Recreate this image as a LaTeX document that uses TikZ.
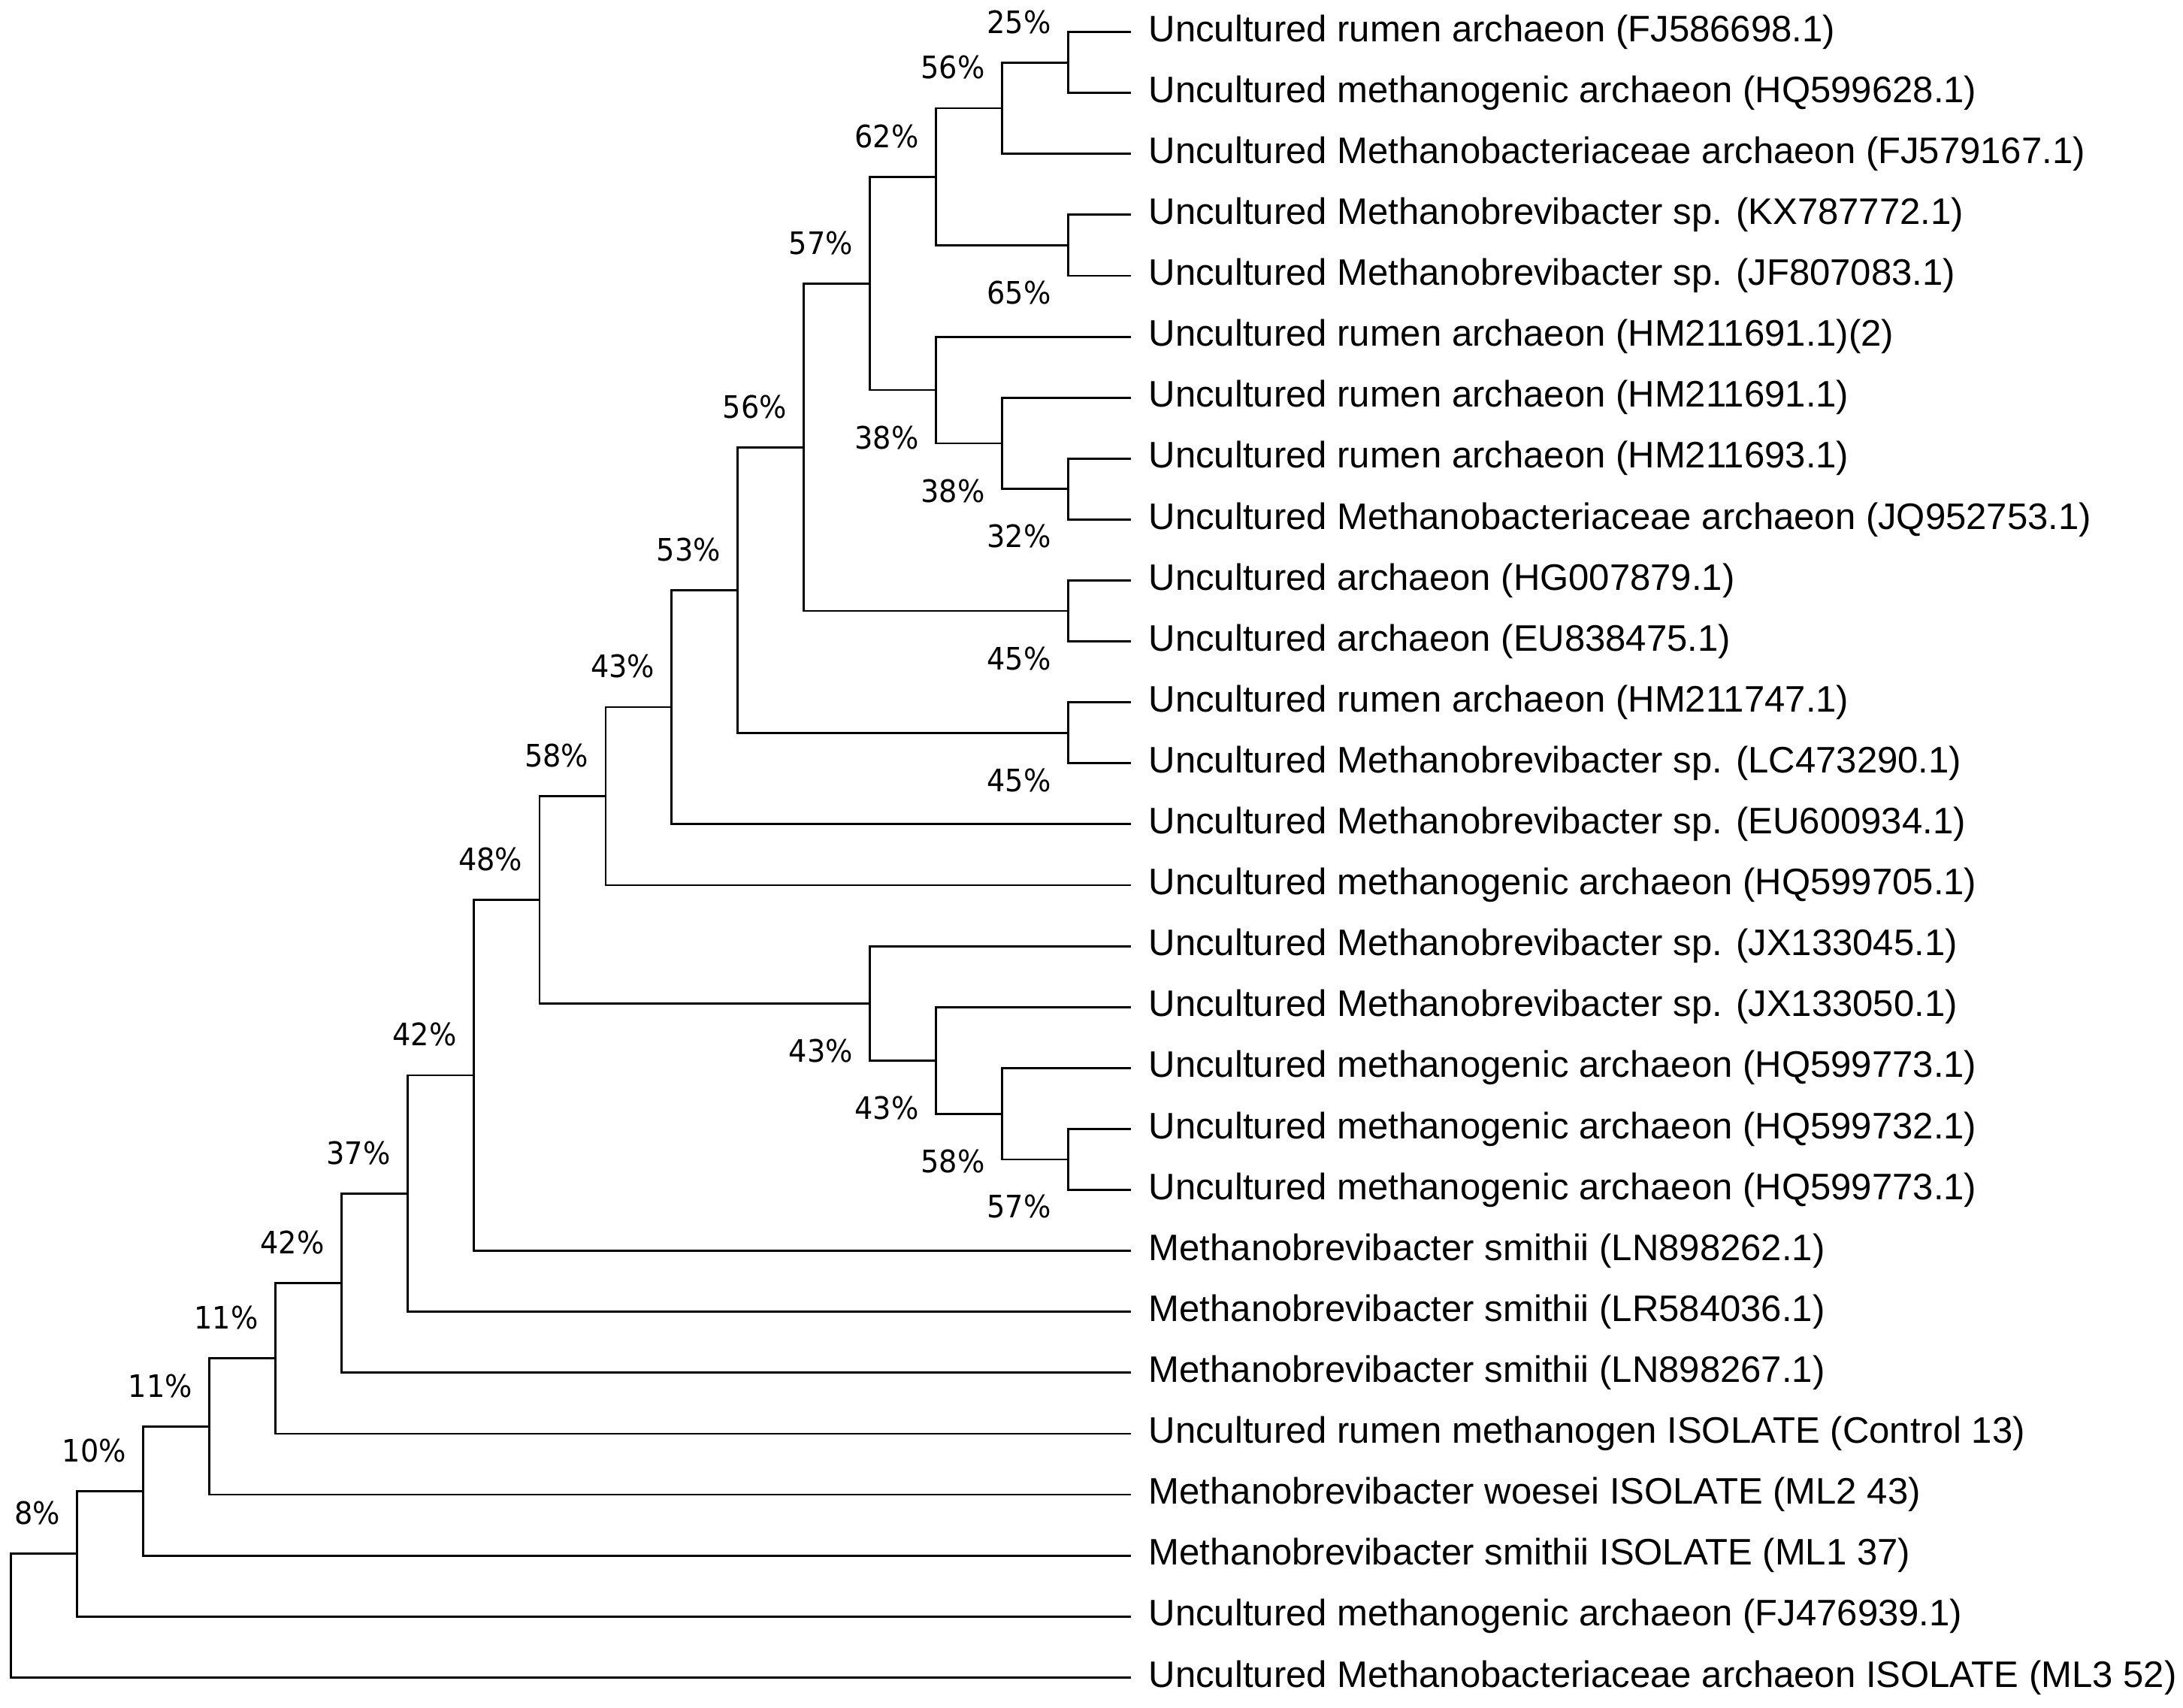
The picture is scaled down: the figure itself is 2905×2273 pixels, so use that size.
\documentclass[tikz,border=0pt]{standalone}
\usepackage{fontspec}
\setmainfont{Liberation Sans}
\newfontfamily\pctfont{DejaVu Sans}[FakeStretch=0.93]
\usetikzlibrary{calc}

\tikzset{
    branch/.style={line width=0.8pt},
    taxon/.style={anchor=west, inner xsep=0.23cm, inner ysep=0pt, font=\fontsize{13.95}{16}\selectfont},
    boot/.style={anchor=east, inner sep=0pt, font=\pctfont\fontsize{11.7}{14}\selectfont},
    bootup/.style={boot, xshift=-0.22cm, yshift=0.54cm},
    bootdown/.style={boot, xshift=-0.22cm, yshift=-0.63cm}
}

\begin{document}
\begin{tikzpicture}[x=0.01cm, y=-0.01cm]
        \useasboundingbox (0,0) rectangle (2905,2273);

        % Taxa
        \foreach \t [count=\i from 0] in {
            {Uncultured rumen archaeon (FJ586698.1)},
            {Uncultured methanogenic archaeon (HQ599628.1)},
            {Uncultured Methanobacteriaceae archaeon (FJ579167.1)},
            {Uncultured Methanobrevibacter sp. (KX787772.1)},
            {Uncultured Methanobrevibacter sp. (JF807083.1)},
            {Uncultured rumen archaeon (HM211691.1)(2)},
            {Uncultured rumen archaeon (HM211691.1)},
            {Uncultured rumen archaeon (HM211693.1)},
            {Uncultured Methanobacteriaceae archaeon (JQ952753.1)},
            {Uncultured archaeon (HG007879.1)},
            {Uncultured archaeon (EU838475.1)},
            {Uncultured rumen archaeon (HM211747.1)},
            {Uncultured Methanobrevibacter sp. (LC473290.1)},
            {Uncultured Methanobrevibacter sp. (EU600934.1)},
            {Uncultured methanogenic archaeon (HQ599705.1)},
            {Uncultured Methanobrevibacter sp. (JX133045.1)},
            {Uncultured Methanobrevibacter sp. (JX133050.1)},
            {Uncultured methanogenic archaeon (HQ599773.1)},
            {Uncultured methanogenic archaeon (HQ599732.1)},
            {Uncultured methanogenic archaeon (HQ599773.1)},
            {Methanobrevibacter smithii (LN898262.1)},
            {Methanobrevibacter smithii (LR584036.1)},
            {Methanobrevibacter smithii (LN898267.1)},
            {Uncultured rumen methanogen ISOLATE (Control 13)},
            {Methanobrevibacter woesei ISOLATE (ML2 43)},
            {Methanobrevibacter smithii ISOLATE (ML1 37)},
            {Uncultured methanogenic archaeon (FJ476939.1)},
            {Uncultured Methanobacteriaceae archaeon ISOLATE (ML3 52)}}
            \node[taxon] (l\i) at (1505, 42.6+81.1*\i) {\t};

        % Knoten
        \coordinate (A) at (1421.2, 83.15);
        \coordinate (B) at (1333.3, 143.98);
        \coordinate (C) at (1421.2, 326.45);
        \coordinate (D) at (1245.4, 235.2);
        \coordinate (E) at (1421.2, 650.85);
        \coordinate (F) at (1333.3, 590.0);
        \coordinate (G) at (1245.4, 519.05);
        \coordinate (H) at (1157.5, 377.1);
        \coordinate (I) at (1421.2, 813.05);
        \coordinate (J) at (1069.6, 595.1);
        \coordinate (K) at (1421.2, 975.25);
        \coordinate (L) at (981.7, 785.2);
        \coordinate (M) at (893.8, 941.0);
        \coordinate (N) at (805.9, 1059.5);
        \coordinate (O) at (1421.2, 1542.95);
        \coordinate (P) at (1333.3, 1482.1);
        \coordinate (Q) at (1245.4, 1411.2);
        \coordinate (R) at (1157.5, 1335.1);
        \coordinate (S) at (718.0, 1197.3);
        \coordinate (T) at (630.1, 1430.9);
        \coordinate (U) at (542.2, 1588.3);
        \coordinate (V) at (454.3, 1707.6);
        \coordinate (W) at (366.4, 1807.7);
        \coordinate (X) at (278.5, 1898.4);
        \coordinate (Y) at (190.6, 1984.2);
        \coordinate (Z) at (102.7, 2067.7);
        \coordinate (root) at (14.8, 2150.0);

        % Aeste
        \draw[branch] (l0.west) -| (A) |- (l1.west);
        \draw[branch] (A) -| (B) |- (l2.west);
        \draw[branch] (l3.west) -| (C) |- (l4.west);
        \draw[branch] (B) -| (D) |- (C);
        \draw[branch] (l7.west) -| (E) |- (l8.west);
        \draw[branch] (l6.west) -| (F) |- (E);
        \draw[branch] (l5.west) -| (G) |- (F);
        \draw[branch] (D) -| (H) |- (G);
        \draw[branch] (l9.west) -| (I) |- (l10.west);
        \draw[branch] (H) -| (J) |- (I);
        \draw[branch] (l11.west) -| (K) |- (l12.west);
        \draw[branch] (J) -| (L) |- (K);
        \draw[branch] (L) -| (M) |- (l13.west);
        \draw[branch] (M) -| (N) |- (l14.west);
        \draw[branch] (l18.west) -| (O) |- (l19.west);
        \draw[branch] (l17.west) -| (P) |- (O);
        \draw[branch] (l16.west) -| (Q) |- (P);
        \draw[branch] (l15.west) -| (R) |- (Q);
        \draw[branch] (N) -| (S) |- (R);
        \draw[branch] (S) -| (T) |- (l20.west);
        \draw[branch] (T) -| (U) |- (l21.west);
        \draw[branch] (U) -| (V) |- (l22.west);
        \draw[branch] (V) -| (W) |- (l23.west);
        \draw[branch] (W) -| (X) |- (l24.west);
        \draw[branch] (X) -| (Y) |- (l25.west);
        \draw[branch] (Y) -| (Z) |- (l26.west);
        \draw[branch] (Z) -| (root) |- (l27.west);

        % Bootstrap
        \node[bootup] (bA) at (A) {25\%};
        \node[bootup] (bB) at (B) {56\%};
        \node[bootdown] (bC) at (C) {65\%};
        \node[bootup] (bD) at (D) {62\%};
        \node[bootdown] (bE) at (E) {32\%};
        \node[bootdown] (bF) at (F) {38\%};
        \node[bootdown] (bG) at (G) {38\%};
        \node[bootup] (bH) at (H) {57\%};
        \node[bootdown] (bI) at (I) {45\%};
        \node[bootup] (bJ) at (J) {56\%};
        \node[bootdown] (bK) at (K) {45\%};
        \node[bootup] (bL) at (L) {53\%};
        \node[bootup] (bM) at (M) {43\%};
        \node[bootup] (bN) at (N) {58\%};
        \node[bootdown] (bO) at (O) {57\%};
        \node[bootdown] (bP) at (P) {58\%};
        \node[bootdown] (bQ) at (Q) {43\%};
        \node[bootdown] (bR) at (R) {43\%};
        \node[bootup] (bS) at (S) {48\%};
        \node[bootup] (bT) at (T) {42\%};
        \node[bootup] (bU) at (U) {37\%};
        \node[bootup] (bV) at (V) {42\%};
        \node[bootup] (bW) at (W) {11\%};
        \node[bootup] (bX) at (X) {11\%};
        \node[bootup] (bY) at (Y) {10\%};
        \node[bootup] (bZ) at (Z) {8\%};
    \end{tikzpicture}
\end{document}
